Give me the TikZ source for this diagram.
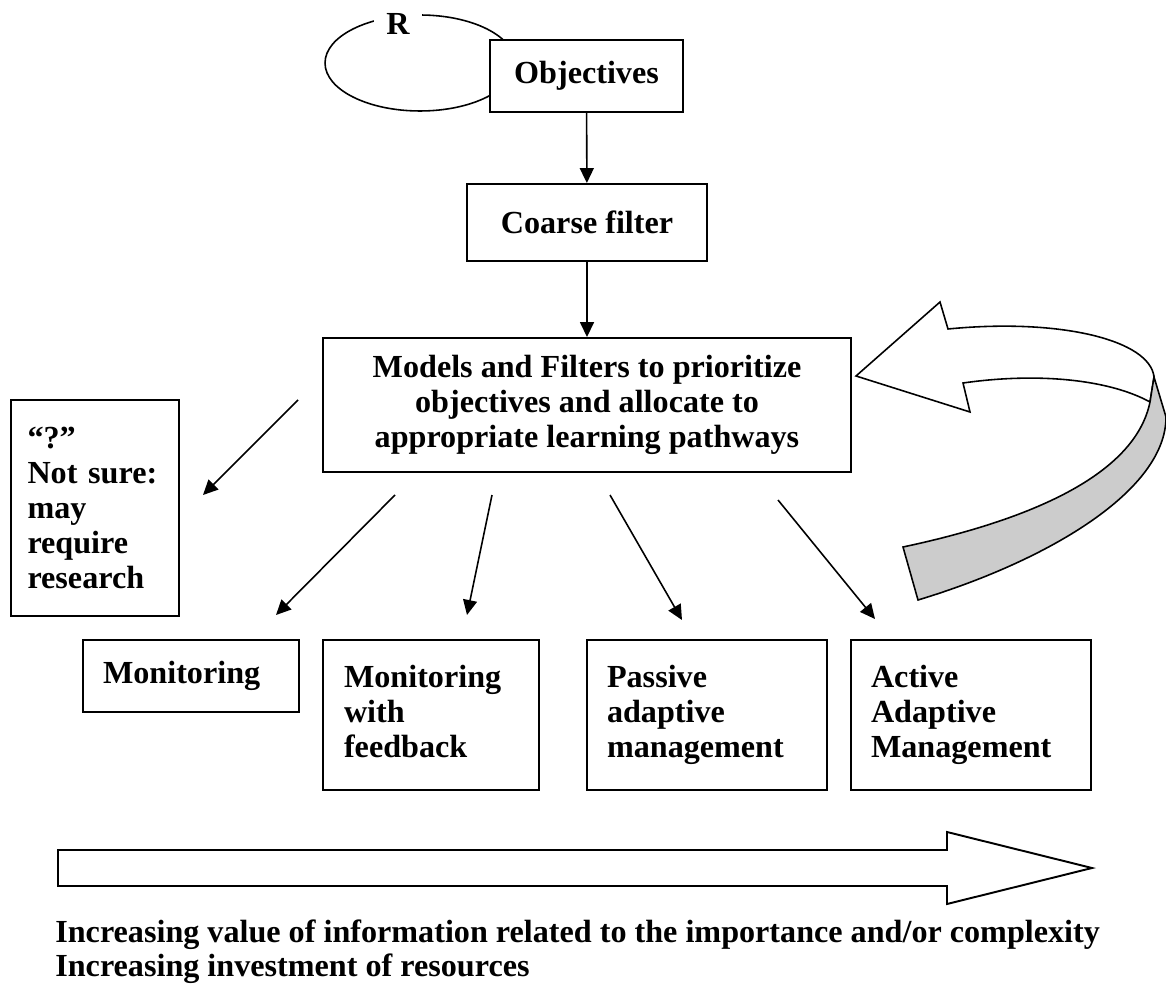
\documentclass[tikz,border=0pt]{standalone}
\usepackage{fontspec}
\setmainfont{Liberation Serif}
\usetikzlibrary{arrows.meta,calc}

\begin{document}
\begin{tikzpicture}[x=0.02cm,y=-0.02cm,
  txt/.style={font=\fontsize{18.3}{19.9}\selectfont\bfseries},
  box/.style={txt,draw,line width=1.1pt,fill=white},
  tbox/.style={box,align=left,inner xsep=0.4cm},
  link/.style={line width=0.9pt,-{Triangle[length=0.3cm,width=0.28cm]}}]
\useasboundingbox (0,0) rectangle (1166,986);
% loop round the objectives
\draw[line width=0.9pt] (420,63) ellipse [x radius=1.9cm,y radius=0.96cm];
\node[txt,fill=white,inner sep=0pt,minimum width=0.96cm,minimum height=0.5cm] (r) at (398,24) {R};
\node[box,minimum width=3.86cm,minimum height=1.44cm] (obj) at (586.5,76) {Objectives};
\node[box,minimum width=4.8cm,minimum height=1.54cm] (coarse) at (587,222.5) {Coarse filter};
\node[box,align=center,minimum width=10.56cm,minimum height=2.68cm] (models) at (587,405) {Models and Filters to prioritize\\ objectives and allocate to\\ appropriate learning pathways};
\node[tbox,text width=2.7cm,inner xsep=0.33cm,minimum height=4.32cm] (unsure) at (95,508) {“?”\\ Not sure:\\ may\\ require\\ research};
% learning pathways
\node[tbox,text width=3.52cm,minimum height=1.44cm] (mon) at (191,676) {Monitoring};
\node[tbox,text width=3.48cm,inner xsep=0.42cm,minimum height=3cm] (monfb) at (431,715) {Monitoring\\ with\\ feedback\vphantom{g}};
\node[tbox,text width=4cm,minimum height=3cm] (passive) at (707,715) {Passive\\ adaptive\\ management};
\node[tbox,text width=4cm,minimum height=3cm] (active) at (971,715) {Active\\ Adaptive\\ Management};

\draw[link] (obj) -- (coarse);
\draw[link] (coarse) -- (models);
\coordinate (m1) at (298,400); \coordinate (q) at (203,495);
\coordinate (m2) at (395,495); \coordinate (p1) at (276,615);
\coordinate (m3) at (492,495); \coordinate (p2) at (467,615);
\coordinate (m4) at (610,495); \coordinate (p3) at (682,620);
\coordinate (m5) at (778,500); \coordinate (p4) at (875,619);
\foreach \a/\b in {m1/q,m2/p1,m3/p2,m4/p3,m5/p4}
  \draw[link] (\a) -- (\b);

% feedback arrow back to the models
\draw[line width=0.9pt,fill=white] (856,376) -- (940,302) -- (948,329)
  .. controls (1060,318) and (1150,340) .. (1154,377) -- (1150,402)
  .. controls (1110,380) and (1040,372) .. (963,383) -- (970,412) -- cycle;
\draw[line width=0.9pt,fill=black!20] (1154,377) -- (1166,417)
  .. controls (1166,490) and (1050,560) .. (918,600) -- (903,547)
  .. controls (1030,520) and (1135,475) .. (1150,402) -- cycle;

% scale of effort
\draw[line width=1.1pt] (58,850) -- (947,850) -- (947,832) -- (1092,868) -- (947,904) -- (947,886) -- (58,886) -- cycle;
\node[txt,anchor=base west,align=left,inner sep=0pt,font=\fontsize{18.3}{18.8}\selectfont\bfseries] (gain) at (55,976) {Increasing value of information related to the importance and/or complexity\\ Increasing investment of resources};
\end{tikzpicture}
\end{document}
